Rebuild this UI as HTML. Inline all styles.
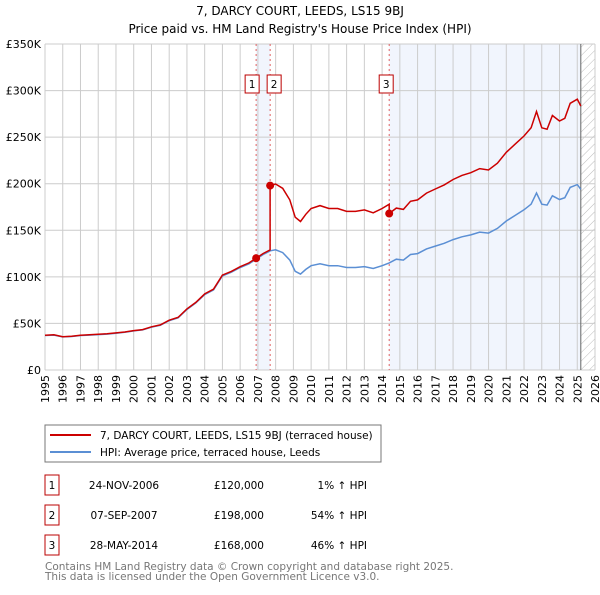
<!DOCTYPE html>
<html><head><meta charset="utf-8"><style>
body{margin:0;background:#fff;}
svg text{font-family:"DejaVu Sans","Liberation Sans",sans-serif;}
</style></head><body>
<svg id="c" width="600" height="590" xmlns="http://www.w3.org/2000/svg">
<defs><pattern id="hatch" width="6" height="6" patternUnits="userSpaceOnUse" patternTransform="rotate(45)"><line x1="0" y1="0" x2="0" y2="6" stroke="#bbb" stroke-width="1"/></pattern></defs>
<text x="300" y="15" font-size="12" text-anchor="middle">7, DARCY COURT, LEEDS, LS15 9BJ</text>
<text x="300" y="33" font-size="12" text-anchor="middle">Price paid vs. HM Land Registry's House Price Index (HPI)</text>
<g id="plot"></g>
<rect x="45" y="425" width="336" height="37" fill="#fff" stroke="#777"/>
<line x1="50" y1="435" x2="91" y2="435" stroke="#cc0000" stroke-width="2"/>
<text x="100" y="439" font-size="10.5">7, DARCY COURT, LEEDS, LS15 9BJ (terraced house)</text>
<line x1="50" y1="452" x2="91" y2="452" stroke="#5b8fd4" stroke-width="2"/>
<text x="100" y="456" font-size="10.5">HPI: Average price, terraced house, Leeds</text>
<g id="table"></g>
<text x="45" y="570" font-size="10.5" fill="#777">Contains HM Land Registry data © Crown copyright and database right 2025.</text>
<text x="45" y="580" font-size="10.5" fill="#777">This data is licensed under the Open Government Licence v3.0.</text>
</svg>
<script>
const yTicks=[0,50,100,150,200,250,300,350];
const yTickLabels=["£0","£50K","£100K","£150K","£200K","£250K","£300K","£350K"];
const xYears=[1995,1996,1997,1998,1999,2000,2001,2002,2003,2004,2005,2006,2007,2008,2009,2010,2011,2012,2013,2014,2015,2016,2017,2018,2019,2020,2021,2022,2023,2024,2025,2026];
const hpiDates=[1995,1995.5,1996,1996.5,1997,1997.5,1998,1998.5,1999,1999.5,2000,2000.5,2001,2001.5,2002,2002.5,2003,2003.5,2004,2004.5,2005,2005.5,2006,2006.5,2006.9,2007.3,2007.7,2008,2008.4,2008.8,2009.1,2009.4,2009.7,2010,2010.5,2011,2011.5,2012,2012.5,2013,2013.5,2014,2014.4,2014.8,2015.2,2015.6,2016,2016.5,2017,2017.5,2018,2018.5,2019,2019.5,2020,2020.5,2021,2021.5,2022,2022.4,2022.7,2023,2023.3,2023.6,2024,2024.3,2024.6,2025,2025.2];
const hpiValues=[37,37.5,35.5,36,37,37.5,38,38.5,39.5,40.5,42,43,46,48,53,56,65,72,81,86,101,105,110,114,119,124,128,129,126,118,106,103,108,112,114,112,112,110,110,111,109,112,115,119,118,124,125,130,133,136,140,143,145,148,147,152,160,166,172,178,190,178,177,187,183,185,196,199,194];
const saleDates=[2006.9,2007.69,2014.4];
const salePrices=[120,198,168];
const saleLabels=["1","2","3"];
const saleDateText=["24-NOV-2006","07-SEP-2007","28-MAY-2014"];
const salePriceText=["£120,000","£198,000","£168,000"];
const saleHpiText=["1% ↑ HPI","54% ↑ HPI","46% ↑ HPI"];

const X0=45,X1=595,Y0=370,Y1=44,XMIN=1995,XMAX=2026,YMAX=350,HATCH=2025.2;
const xs=v=>X0+(v-XMIN)/(XMAX-XMIN)*(X1-X0);
const ys=v=>Y0-v/YMAX*(Y0-Y1);
const NS="http://www.w3.org/2000/svg";
const plot=document.getElementById('plot');
function mk(tag,attrs,parent){const e=document.createElementNS(NS,tag);for(const k in attrs)e.setAttribute(k,attrs[k]);(parent||plot).appendChild(e);return e;}
function hpiAt(t){for(let i=1;i<hpiDates.length;i++){if(t<=hpiDates[i]){const f=(t-hpiDates[i-1])/(hpiDates[i]-hpiDates[i-1]);return hpiValues[i-1]+f*(hpiValues[i]-hpiValues[i-1]);}}return hpiValues[hpiValues.length-1];}

let r=mk('rect',{x:xs(saleDates[0]),y:Y1,width:xs(saleDates[1])-xs(saleDates[0]),height:Y0-Y1,fill:'#eef3fc',opacity:0.8});

r=mk('rect',{x:xs(saleDates[2]),y:Y1,width:xs(HATCH)-xs(saleDates[2]),height:Y0-Y1,fill:'#eef3fc',opacity:0.8});

r=mk('rect',{x:xs(HATCH),y:Y1,width:X1-xs(HATCH),height:Y0-Y1,fill:'url(#hatch)'});


xYears.forEach(y=>{let l=mk('line',{x1:xs(y),x2:xs(y),y1:Y1,y2:Y0,stroke:'#ccc'});
const tx=xs(y)+4,ty=Y0+5;
let t=mk('text',{x:tx,y:ty,'font-size':11,'text-anchor':'end',transform:`rotate(-90 ${tx} ${ty})`});t.textContent=y;});
yTicks.forEach((v,i)=>{let l=mk('line',{x1:X0,x2:X1,y1:ys(v),y2:ys(v),stroke:'#ccc'});
let t=mk('text',{x:X0-4,y:ys(v)+4,'font-size':11,'text-anchor':'end'});t.textContent=yTickLabels[i];});
let hl=mk('line',{x1:xs(HATCH),x2:xs(HATCH),y1:Y1,y2:Y0,stroke:'#666'});

saleDates.forEach((d,i)=>{let l=mk('line',{x1:xs(d),x2:xs(d),y1:Y1,y2:Y0,stroke:'#e06060','stroke-dasharray':'2,3'});});

let hp=hpiDates.map((d,i)=>xs(d).toFixed(1)+','+ys(hpiValues[i]).toFixed(1)).join(' ');
let hpl=mk('polyline',{points:hp,fill:'none',stroke:'#5b8fd4','stroke-width':1.5});


const pts=[];
const tl=[...hpiDates,...saleDates].sort((a,b)=>a-b);
tl.forEach(t=>{let k=-1;for(let i=0;i<saleDates.length;i++)if(t>=saleDates[i])k=i;
 let v;if(k<0){v=hpiAt(t)*salePrices[0]/hpiAt(saleDates[0]);}else{v=hpiAt(t)*salePrices[k]/hpiAt(saleDates[k]);}
 if(saleDates.includes(t)&&k>0){pts.push([t,hpiAt(t)*salePrices[k-1]/hpiAt(saleDates[k-1])]);}
 pts.push([t,v]);});
let pl=mk('polyline',{points:pts.map(p=>xs(p[0]).toFixed(1)+','+ys(p[1]).toFixed(1)).join(' '),fill:'none',stroke:'#cc0000','stroke-width':1.5});


saleDates.forEach((d,i)=>{let c=mk('circle',{cx:xs(d),cy:ys(salePrices[i]),r:4,fill:'#cc0000'});
 let g=mk('g',{});
 const x=i==0?xs(d)-11:(i==1?xs(d)-3:xs(d)-10);
 mk('rect',{x:x,y:75,width:14,height:18,fill:'#fff',stroke:'#b00'},g);
 let t=mk('text',{x:x+7,y:88,'font-size':10.5,'text-anchor':'middle'},g);t.textContent=saleLabels[i];});

const tb=document.getElementById('table');
saleDates.forEach((d,i)=>{const y=483+i*30;
 let g=mk('g',{},tb);
 mk('rect',{x:45,y:y-8,width:14,height:20,fill:'#fff',stroke:'#b00'},g);
 let t=mk('text',{x:52,y:y+6,'font-size':10.5,'text-anchor':'middle'},g);t.textContent=saleLabels[i];
 t=mk('text',{x:124,y:y+6,'font-size':10.5,'text-anchor':'middle'},g);t.textContent=saleDateText[i];
 t=mk('text',{x:264,y:y+6,'font-size':10.5,'text-anchor':'end'},g);t.textContent=salePriceText[i];
 t=mk('text',{x:367,y:y+6,'font-size':10.5,'text-anchor':'end'},g);t.textContent=saleHpiText[i];});
</script>
</body></html>
